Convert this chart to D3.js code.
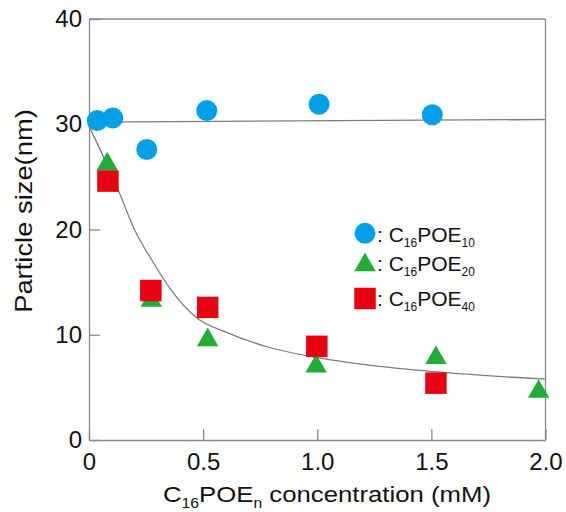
<!DOCTYPE html>
<html>
<head>
<meta charset="utf-8">
<script src="https://cdn.jsdelivr.net/npm/d3@7"></script>
<style>
  body { margin: 0; background: #fff; }
  svg { font-family: "Liberation Sans", Arial, sans-serif; }
  .frame line, .axis path, .axis line { stroke: #8a8a8a; stroke-width: 1.3; }
  .axis text { font-size: 24px; fill: #111; }
</style>
</head>
<body>
<div id="chart"></div>
<script>
// particle size vs surfactant concentration, three surfactants
var xTicks = [0, 0.5, 1.0, 1.5, 2.0];
var xTickLabels = ["0", "0.5", "1.0", "1.5", "2.0"];
var yTicks = [0, 10, 20, 30, 40];

var conc10 = [0.036, 0.104, 0.253, 0.516, 1.008, 1.504];
var size10 = [30.35, 30.6, 27.6, 31.3, 31.9, 30.9];

var conc20 = [0.08, 0.273, 0.52, 0.995, 1.52, 1.97];
var size20 = [26.2, 13.25, 9.5, 7.0, 7.8, 4.6];

var conc40 = [0.083, 0.271, 0.52, 0.998, 1.52];
var size40 = [24.6, 14.2, 12.6, 8.9, 5.4];

// fitted lines
var flatX = [0, 2.0];
var flatY = [30.2, 30.45];
var fitX = [0, 0.07, 0.128, 0.2, 0.275, 0.36, 0.47, 0.6, 0.78, 1.0, 1.22, 1.51, 2.0];
var fitY = [29.8, 26.6, 23.75, 19.95, 17.1, 14.25, 11.65, 10.25, 8.86, 7.82, 7.13, 6.49, 5.78];

var width = 566, height = 512;
var margin = {top: 19, right: 20.5, bottom: 72, left: 89};

var svg = d3.select("#chart").append("svg")
    .attr("width", width)
    .attr("height", height);

var x = d3.scaleLinear().domain([0, 2]).range([margin.left, width - margin.right]);
var y = d3.scaleLinear().domain([0, 40]).range([height - margin.bottom, margin.top]);

/***** frame + axes *****/
var frame = svg.append("g").attr("class", "frame");
frame.append("line")
    .attr("x1", x(0)).attr("x2", x(2)).attr("y1", y(40)).attr("y2", y(40));
frame.append("line")
    .attr("x1", x(2)).attr("x2", x(2)).attr("y1", y(40)).attr("y2", y(0));

var xAxis = d3.axisBottom(x)
    .tickValues(xTicks)
    .tickFormat((d, i) => xTickLabels[i])
    .tickSizeInner(-11)
    .tickSizeOuter(0)
    .tickPadding(13);
svg.append("g")
    .attr("class", "axis")
    .attr("transform", "translate(0," + y(0) + ")")
    .call(xAxis);

var yAxis = d3.axisLeft(y)
    .tickValues(yTicks)
    .tickFormat(d3.format("d"))
    .tickSizeInner(-11)
    .tickSizeOuter(0)
    .tickPadding(7);
svg.append("g")
    .attr("class", "axis")
    .attr("transform", "translate(" + x(0) + ",0)")
    .call(yAxis);

svg.selectAll(".axis .domain").attr("stroke", "#8a8a8a");

/***** fit lines *****/
var line = d3.line()
    .x(d => x(d[0]))
    .y(d => y(d[1]))
    .curve(d3.curveMonotoneX);

svg.append("path")
    .datum(d3.zip(flatX, flatY))
    .attr("d", line)
    .attr("fill", "none")
    .attr("stroke", "#7d7d7d")
    .attr("stroke-width", 1.3);

svg.append("path")
    .datum(d3.zip(fitX, fitY))
    .attr("d", line)
    .attr("fill", "none")
    .attr("stroke", "#7d7d7d")
    .attr("stroke-width", 1.3);

/***** markers *****/
var blue = "#00a0e9", green = "#22ac38", red = "#e60012";
var triSize = Math.sqrt(3) / 4 * 21.5 * 21.5;
var sqSize = 21.5 * 21.5;

svg.append("g").selectAll("circle")
    .data(d3.zip(conc10, size10))
    .join("circle")
    .attr("cx", d => x(d[0]))
    .attr("cy", d => y(d[1]))
    .attr("r", 10.5)
    .attr("fill", blue);

svg.append("g").selectAll("path")
    .data(d3.zip(conc20, size20))
    .join("path")
    .attr("transform", d => "translate(" + x(d[0]) + "," + y(d[1]) + ")")
    .attr("d", d3.symbol(d3.symbolTriangle, triSize))
    .attr("fill", green);

svg.append("g").selectAll("path")
    .data(d3.zip(conc40, size40))
    .join("path")
    .attr("transform", d => "translate(" + x(d[0]) + "," + y(d[1]) + ")")
    .attr("d", d3.symbol(d3.symbolSquare, sqSize))
    .attr("fill", red);

/***** legend *****/
var legend = [
  {sym: d3.symbolCircle, size: Math.PI * 10.5 * 10.5, color: blue, n: "10", cy: 233.3, base: 242},
  {sym: d3.symbolTriangle, size: triSize, color: green, n: "20", cy: 265, base: 271},
  {sym: d3.symbolSquare, size: sqSize, color: red, n: "40", cy: 298.5, base: 306}
];
var lg = svg.append("g").selectAll("g").data(legend).join("g");
lg.append("path")
    .attr("transform", d => "translate(365," + d.cy + ")")
    .attr("d", d => d3.symbol(d.sym, d.size)())
    .attr("fill", d => d.color);
var lt = lg.append("text")
    .attr("x", 377)
    .attr("y", d => d.base)
    .attr("font-size", 21)
    .attr("fill", "#111");
lt.append("tspan").text(": C");
lt.append("tspan").attr("font-size", 12).attr("dy", 5).text("16");
lt.append("tspan").attr("dy", -5).text("POE");
lt.append("tspan").attr("font-size", 12).attr("dy", 5).text(d => d.n);

/***** axis titles *****/
var xt = svg.append("g")
    .attr("transform", "translate(327,502) scale(1.12,1)")
    .append("text")
    .attr("text-anchor", "middle")
    .attr("font-size", 23)
    .attr("fill", "#111");
xt.append("tspan").text("C");
xt.append("tspan").attr("font-size", 14).attr("dy", 6).text("16");
xt.append("tspan").attr("dy", -6).text("POE");
xt.append("tspan").attr("font-size", 14).attr("dy", 6).text("n");
xt.append("tspan").attr("dy", -6).text(" concentration (mM)");

svg.append("g")
    .attr("transform", "translate(32,211) rotate(-90) scale(1.19,1)")
    .append("text")
    .attr("text-anchor", "middle")
    .attr("font-size", 23)
    .attr("fill", "#111")
    .text("Particle size(nm)");
</script>
</body>
</html>
